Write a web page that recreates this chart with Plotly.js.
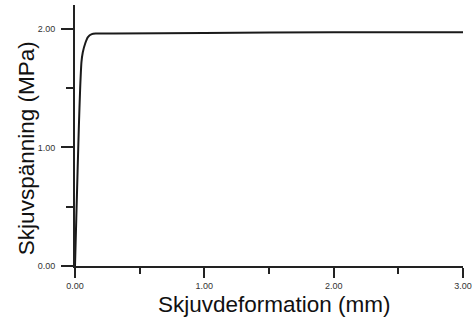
<!DOCTYPE html>
<html>
<head>
<meta charset="utf-8">
<script src="https://cdn.plot.ly/plotly-3.0.1.min.js"></script>
<style>html,body{margin:0;padding:0;background:#fff;}#chart{width:475px;height:320px;}</style>
</head>
<body>
<div id="chart"></div>
<script>
const deformation = [0, 0.01, 0.02, 0.03, 0.04, 0.05, 0.06, 0.08, 0.10, 0.13, 0.16, 0.30, 1.00, 2.00, 3.00];
const stress      = [0, 0.40, 0.80, 1.18, 1.50, 1.72, 1.80, 1.88, 1.93, 1.955, 1.96, 1.96, 1.965, 1.97, 1.97];
const xTickVals = [0, 1, 2, 3];
const xTickText = ['0.00', '1.00', '2.00', '3.00'];
const xMinorVals = [0.5, 1.5, 2.5];
const yTickVals = [0, 1, 2];
const yTickText = ['0.00', '1.00', '2.00'];
const yMinorVals = [0.5, 1.5];
const xTitle = 'Skjuvdeformation (mm)';
const yTitle = 'Skjuvspänning (MPa)';

const trace = {
  x: deformation, y: stress, type: 'scatter', mode: 'lines',
  line: {color: '#1a1a1a', width: 2, shape: 'spline', smoothing: 0.6},
  hoverinfo: 'skip'
};
const titleFont = {size: 22.5, family: 'Liberation Sans, Arial, sans-serif', color: '#111'};
const tickFont = {size: 9, family: 'Liberation Sans, Arial, sans-serif', color: '#333'};
const layout = {
  width: 475, height: 320,
  margin: {l: 75, r: 12, t: 5, b: 54},
  paper_bgcolor: '#fff', plot_bgcolor: '#fff',
  showlegend: false,
  font: {family: 'Liberation Sans, Arial, sans-serif', color: '#222'},
  xaxis: {
    range: [0, 3], tickvals: xTickVals, ticktext: xTickText,
    ticks: 'outside', ticklen: 10, tickwidth: 2, tickcolor: '#222',
    minor: {tickvals: xMinorVals, ticks: 'outside', ticklen: 6, tickwidth: 2, tickcolor: '#222'},
    showline: true, linecolor: '#222', linewidth: 2, showgrid: false, zeroline: false,
    tickfont: tickFont
  },
  yaxis: {
    range: [0, 2.2], tickvals: yTickVals, ticktext: yTickText,
    ticks: 'outside', ticklen: 12, tickwidth: 2, tickcolor: '#222',
    minor: {tickvals: yMinorVals, ticks: 'outside', ticklen: 7, tickwidth: 2, tickcolor: '#222'},
    showline: true, linecolor: '#222', linewidth: 2, showgrid: false, zeroline: false,
    tickfont: tickFont, ticklabelstandoff: 4
  },
  annotations: [
    {text: xTitle, xref: 'paper', yref: 'paper', x: 0.515, y: -0.1456,
     xanchor: 'center', yanchor: 'middle', showarrow: false, font: titleFont},
    {text: yTitle, xref: 'paper', yref: 'paper', x: -0.126, y: 0.452, textangle: -90,
     xanchor: 'center', yanchor: 'middle', showarrow: false, font: titleFont}
  ]
};
Plotly.newPlot('chart', [trace], layout, {staticPlot: true, displayModeBar: false});
</script>
</body>
</html>
